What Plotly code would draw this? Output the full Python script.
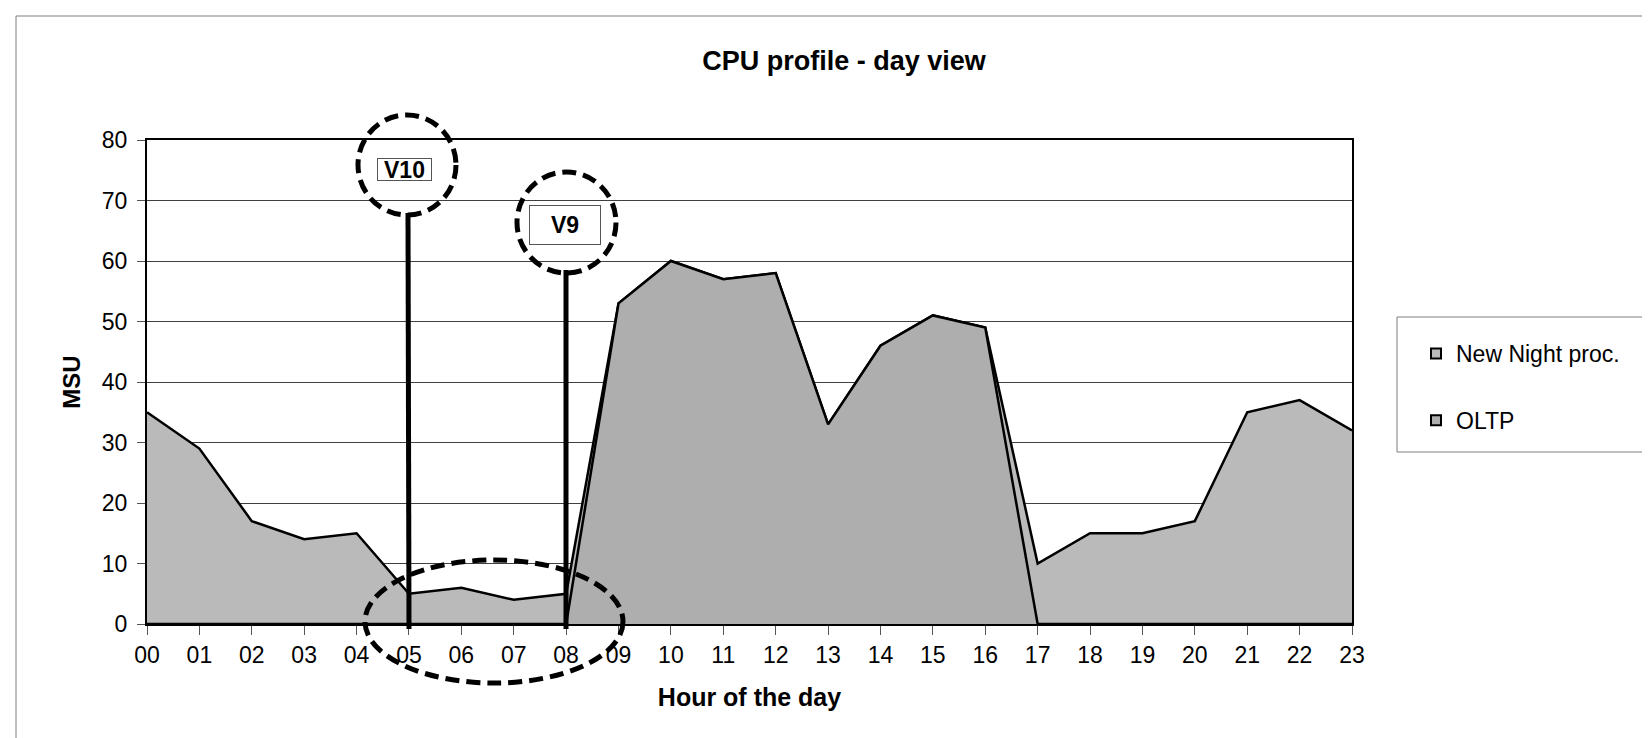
"""CPU profile - day view: MSU per hour, overlapping area chart with V10/V9 markers."""
import plotly.graph_objects as go

HOURS = list(range(24))
HOUR_LABELS = [f'{h:02d}' for h in HOURS]
NIGHT_PROC = [35, 29, 17, 14, 15, 5, 6, 4, 5, 53, 60, 57, 58, 33, 46, 51, 49,
              10, 15, 15, 17, 35, 37, 32]
OLTP = [0, 0, 0, 0, 0, 0, 0, 0, 0, 53, 60, 57, 58, 33, 46, 51, 49,
        0, 0, 0, 0, 0, 0, 0]

W, H = 1650, 738
PL, PR, PT, PB = 139, 1344, 132, 616          # plot area in pixels
FONT = 'Liberation Sans'
LIGHT = '#BABABA'
DARK = '#AEAEAE'


def px(x):
    return (x - PL) / (PR - PL)


def py(y):
    return (PB - y) / (PB - PT)


fig = go.Figure()
fig.add_trace(go.Scatter(
    x=HOURS, y=NIGHT_PROC, mode='lines', fill='tozeroy', fillcolor=LIGHT,
    line=dict(color='black', width=2.5), showlegend=False, hoverinfo='skip'))
fig.add_trace(go.Scatter(
    x=HOURS, y=OLTP, mode='lines', fill='tozeroy', fillcolor=DARK,
    line=dict(color='black', width=2.5), showlegend=False, hoverinfo='skip'))

# legend entries: small squares like the spreadsheet legend
for name, clr, grp in [('New Night proc.', LIGHT, 'a'), ('OLTP', DARK, 'b')]:
    fig.add_trace(go.Scatter(
        x=[None], y=[None], mode='markers', name=name, legendgroup=grp,
        marker=dict(symbol='square', size=10, color=clr,
                    line=dict(color='black', width=2))))

dash = '14px,7px'
shapes = [
    # outer chart frame (only top/left visible)
    dict(type='rect', xref='paper', yref='paper', x0=px(8), x1=px(1700),
         y0=py(800), y1=py(8), line=dict(color='#7F7F7F', width=1)),
    # legend frame
    dict(type='rect', xref='paper', yref='paper', x0=px(1389), x1=px(1647),
         y0=py(444), y1=py(309), line=dict(color='#7F7F7F', width=1)),
    # V10 marker
    dict(type='line', xref='paper', yref='paper', x0=px(400), x1=px(401),
         y0=py(205), y1=py(621), line=dict(color='black', width=5),
         layer='above'),
    dict(type='circle', xref='paper', yref='paper', x0=px(350), x1=px(448),
         y0=py(207), y1=py(107), line=dict(color='black', width=5, dash=dash),
         layer='above'),
    # V9 marker
    dict(type='line', xref='paper', yref='paper', x0=px(558), x1=px(558),
         y0=py(262), y1=py(621), line=dict(color='black', width=5),
         layer='above'),
    dict(type='circle', xref='paper', yref='paper', x0=px(509), x1=px(608),
         y0=py(265), y1=py(164), line=dict(color='black', width=5, dash=dash),
         layer='above'),
    # ellipse around the night valley
    dict(type='circle', xref='paper', yref='paper', x0=px(357), x1=px(615),
         y0=py(675), y1=py(552), line=dict(color='black', width=5, dash=dash),
         layer='above'),
]

annotations = [
    dict(text='<b>V10</b>', xref='paper', yref='paper', x=px(396.5), y=py(161.5),
         xanchor='center', yanchor='middle',
         showarrow=False, width=53, height=21, bgcolor='white',
         bordercolor='#555555', borderwidth=1, borderpad=0,
         font=dict(family=FONT, size=23, color='black')),
    dict(text='<b>V9</b>', xref='paper', yref='paper', x=px(557), y=py(217),
         xanchor='center', yanchor='middle',
         showarrow=False, width=70, height=38, bgcolor='white',
         bordercolor='#555555', borderwidth=1, borderpad=0,
         font=dict(family=FONT, size=23, color='black')),
]

fig.update_layout(
    width=W, height=H,
    margin=dict(l=PL, r=W - PR, t=PT, b=H - PB, autoexpand=False),
    paper_bgcolor='white', plot_bgcolor='white',
    font=dict(family=FONT, size=22, color='black'),
    title=dict(text='CPU profile - day view', x=836 / W, xanchor='center',
               y=1 - 53 / H, yanchor='middle', yref='container',
               font=dict(family=FONT, size=27, color='black', weight='bold')),
    showlegend=True,
    legend=dict(x=px(1408), xanchor='left', y=py(324), yanchor='top',
                bgcolor='rgba(0,0,0,0)', borderwidth=0, tracegroupgap=34,
                itemwidth=30, font=dict(family=FONT, size=23, color='black')),
    shapes=shapes, annotations=annotations,
)
fig.update_xaxes(
    range=[0, 23], tickmode='array', tickvals=HOURS, ticktext=HOUR_LABELS,
    showline=True, linecolor='black', linewidth=2, mirror=True,
    ticks='outside', ticklen=9, tickcolor='#555555', tickwidth=1,
    showgrid=False, zeroline=False,
    tickfont=dict(family=FONT, size=23, color='black'),
    title=dict(text='Hour of the day', standoff=22,
               font=dict(family=FONT, size=25, color='black', weight='bold')))
fig.update_yaxes(
    range=[0, 80], dtick=10, showline=True, linecolor='black', linewidth=2,
    mirror=True, ticks='outside', ticklen=8, tickcolor='#555555', tickwidth=1,
    ticklabelstandoff=5,
    showgrid=True, gridcolor='#404040', gridwidth=1, zeroline=False,
    tickfont=dict(family=FONT, size=23, color='black'),
    title=dict(text='MSU', standoff=14,
               font=dict(family=FONT, size=24, color='black', weight='bold')))

fig.write_html('out.html')
